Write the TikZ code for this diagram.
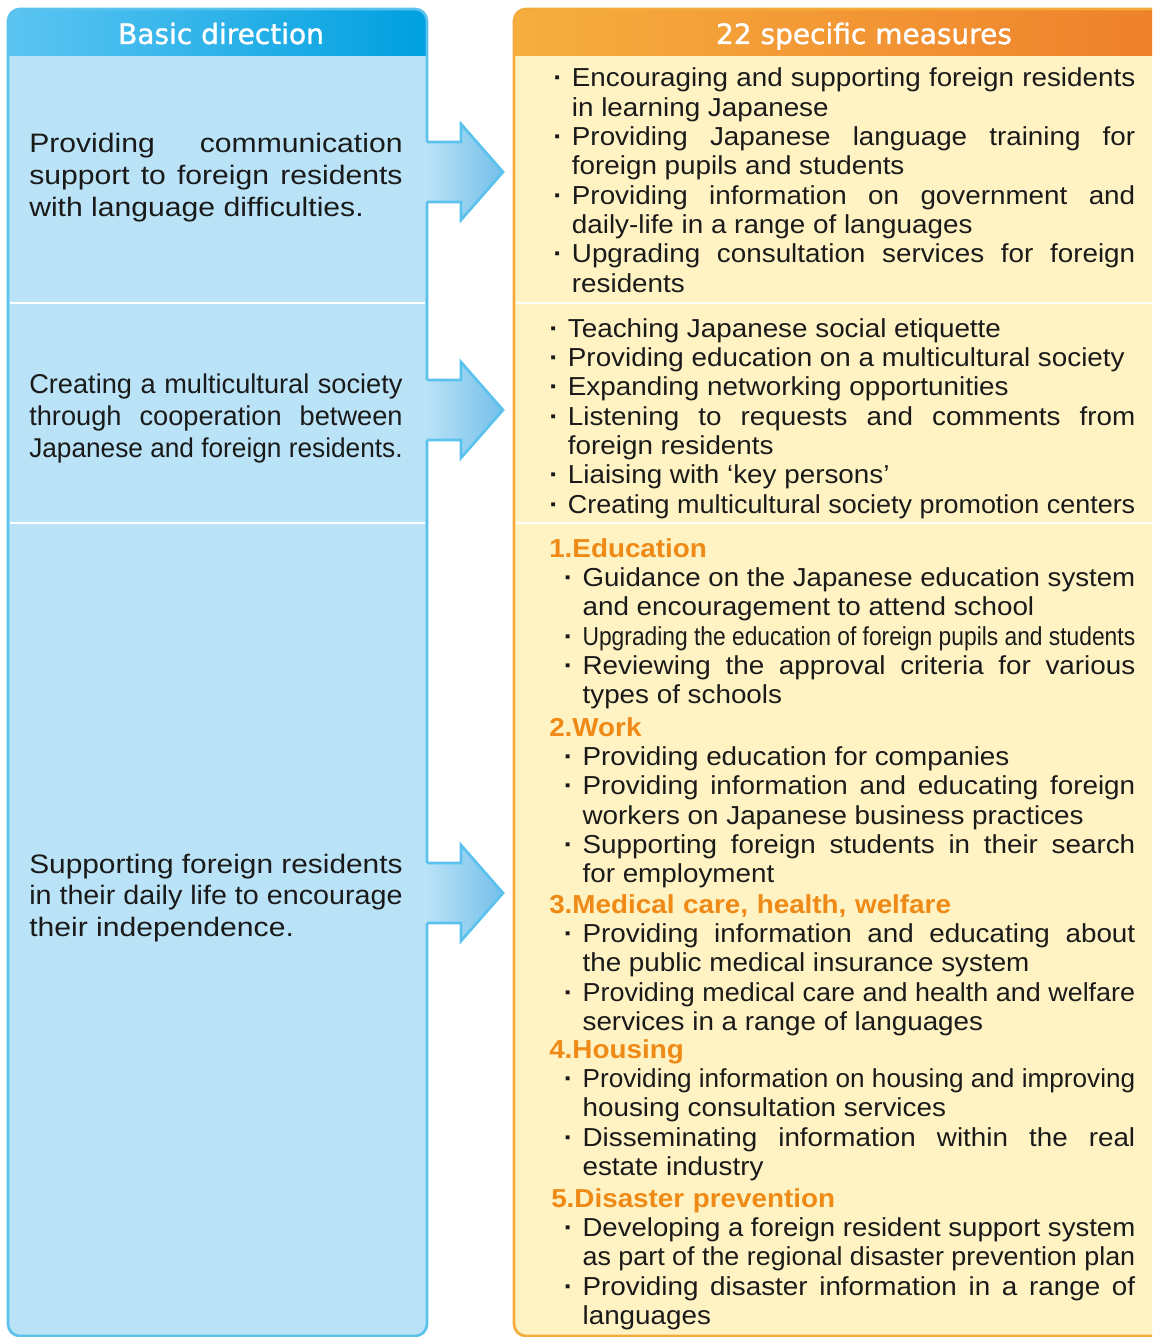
\documentclass[tikz,border=0pt]{standalone}
\usepackage{fontspec}
\usepackage{graphicx}
\setmainfont{Liberation Sans}
\newfontfamily\rfont{Liberation Sans}[FakeStretch=1.07]
\newfontfamily\wfont{Liberation Sans}[FakeStretch=1.13]
\newfontfamily\hfont{DejaVu Sans}[FakeBold=1.2]

\definecolor{boxblue}{HTML}{BAE3F7}
\definecolor{lineblue}{HTML}{5BC2EE}
\definecolor{headblueA}{HTML}{5CC5F2}
\definecolor{headblueB}{HTML}{00A0E0}
\definecolor{arrowblue}{HTML}{74BFEA}
\definecolor{boxyellow}{HTML}{FFF2C3}
\definecolor{lineorange}{HTML}{F5AB3B}
\definecolor{headorangeA}{HTML}{F6AE3E}
\definecolor{headorangeB}{HTML}{EE7D2A}
\definecolor{headingorange}{HTML}{EF8A16}
\definecolor{bodytext}{HTML}{1A1A1A}

% one justified line: #1 = bullet or indent, #2 = words
\newsavebox\linebox
\newlength\restw
\newcommand\jl[2]{{\spaceskip=0pt\xspaceskip=0pt%
  \sbox\linebox{#1}\setlength\restw{\dimexpr\linewidth-\wd\linebox\relax}%
  \usebox\linebox
  \sbox\linebox{#2}%
  \ifdim\wd\linebox>\restw \resizebox{\restw}{\height}{\usebox\linebox}%
  \else\makebox[\restw][s]{#2}\fi}}
% one line at its own width, squeezed only when too long
\newcommand\fl[1]{{\spaceskip=0pt\xspaceskip=0pt%
  \sbox\linebox{#1}%
  \ifdim\wd\linebox>\linewidth \resizebox{\linewidth}{\height}{\usebox\linebox}%
  \else\usebox\linebox\fi}}
\newcommand\bul{\makebox[14pt][l]{\textbf{·}}}
\newcommand\ind{\hspace*{14pt}}
\newcommand\sbul{\hspace*{11pt}\bul}
\newcommand\sind{\hspace*{25pt}}
\newcommand\grp[1]{{\color{headingorange}\bfseries #1}}

\begin{document}
\begin{tikzpicture}[x=0.75pt,y=-0.75pt]
    \tikzset{
        colhead/.style={font=\hfont\fontsize{21}{24}\selectfont, text=white, anchor=base, inner sep=0},
        dirtext/.style={font=\wfont\fontsize{20}{23.8}\selectfont, text=bodytext,
            anchor=base west, inner sep=0, text width=280pt, align=left},
        measures/.style={font=\rfont\fontsize{19.5}{22}\selectfont, text=bodytext,
            anchor=base west, inner sep=0, text width=#1, align=left},
        measures/.default=439.5pt,
        sepline/.style={white, line width=1.5pt},
        frame/.style={line width=2pt, rounded corners=9pt}}
    \def\arrowpath{(425.5,-30) -- (461,-30) -- (461,-48) -- (503,0) -- (461,48) -- (461,30) -- (425.5,30)}
    \useasboundingbox (0,0) rectangle (1152,1337);
    \clip (0,0) rectangle (1152,1337);

    % left column
    \begin{scope}
        \clip[rounded corners=9pt] (8,9) rectangle (427,1336);
        \fill[boxblue] (8,9) rectangle (427,1336);
        \shade[left color=headblueA, right color=headblueB] (8,9) rectangle (427,56);
    \end{scope}
    % right column
    \begin{scope}
        \clip[rounded corners=9pt] (514,9) rectangle (1213,1336);
        \fill[boxyellow] (514,9) rectangle (1213,1336);
        \shade[left color=headorangeA, right color=headorangeB] (514,9) rectangle (1213,56);
    \end{scope}
    \foreach \yy in {303,523} {
        \draw[sepline] (10,\yy) -- (425,\yy);
        \draw[sepline] (516,\yy) -- (1160,\yy);
    }
    \draw[frame, lineblue] (8,9) rectangle (427,1336);
    \draw[frame, lineorange] (514,9) rectangle (1213,1336);

    \foreach \yy in {172,410,893} {
        \begin{scope}[shift={(0,\yy)}]
            \shade[left color=boxblue, right color=arrowblue] \arrowpath -- cycle;
            \draw[lineblue, line width=2pt] (427,-30) -- (461,-30) -- (461,-48) -- (503,0)
                -- (461,48) -- (461,30) -- (427,30);
        \end{scope}
    }

    \node[colhead] (hdl) at (221,44) {Basic direction};
    \node[colhead] (hdr) at (864,44) {22 specific measures};

    \node[dirtext] (dirA) at (29,153) {\jl{}{Providing communication}\\
        \jl{}{support to foreign residents}\\ \fl{with language difficulties.}};
    \node[dirtext, font=\rmfamily\fontsize{20.4}{24}\selectfont] (dirB) at (29,393)
        {\jl{}{Creating a multicultural society}\\ \jl{}{through cooperation between}\\
        \fl{Japanese and foreign residents.}};
    \node[dirtext] (dirC) at (29,873) {\jl{}{Supporting foreign residents}\\
        \jl{}{in their daily life to encourage}\\ \fl{their independence.}};

    \node[measures=436.5pt] (msA) at (553,87) {%
        \jl{\bul}{Encouraging and supporting foreign residents}\\
        \fl{\ind in learning Japanese}\\
        \jl{\bul}{Providing Japanese language training for}\\
        \fl{\ind foreign pupils and students}\\
        \jl{\bul}{Providing information on government and}\\
        \fl{\ind daily-life in a range of languages}\\
        \jl{\bul}{Upgrading consultation services for foreign}\\
        \fl{\ind residents}};
    \node[measures] (msB) at (549,337) {%
        \fl{\bul Teaching Japanese social etiquette}\\
        \fl{\bul Providing education on a multicultural society}\\
        \fl{\bul Expanding networking opportunities}\\
        \jl{\bul}{Listening to requests and comments from}\\
        \fl{\ind foreign residents}\\
        \fl{\bul Liaising with ‘key persons’}\\
        \jl{\bul}{Creating multicultural society promotion centers}};

    \node[measures] (edu) at (549,557) {\grp{1.Education}\\
        \jl{\sbul}{Guidance on the Japanese education system}\\
        \fl{\sind and encouragement to attend school}\\
        \jl{\sbul}{Upgrading the education of foreign pupils and students}\\
        \jl{\sbul}{Reviewing the approval criteria for various}\\
        \fl{\sind types of schools}};
    \node[measures] (work) at (549,736) {\grp{2.Work}\\
        \fl{\sbul Providing education for companies}\\
        \jl{\sbul}{Providing information and educating foreign}\\
        \fl{\sind workers on Japanese business practices}\\
        \jl{\sbul}{Supporting foreign students in their search}\\
        \fl{\sind for employment}};
    \node[measures] (med) at (549,913) {\grp{3.Medical care, health, welfare}\\
        \jl{\sbul}{Providing information and educating about}\\
        \fl{\sind the public medical insurance system}\\
        \jl{\sbul}{Providing medical care and health and welfare}\\
        \fl{\sind services in a range of languages}};
    \node[measures] (housing) at (549,1058) {\grp{4.Housing}\\
        \jl{\sbul}{Providing information on housing and improving}\\
        \fl{\sind housing consultation services}\\
        \jl{\sbul}{Disseminating information within the real}\\
        \fl{\sind estate industry}};
    \node[measures] (disaster) at (549,1207) {\grp{\hspace*{1.5pt}5.Disaster prevention}\\
        \jl{\sbul}{Developing a foreign resident support system}\\
        \jl{\sind}{as part of the regional disaster prevention plan}\\
        \jl{\sbul}{Providing disaster information in a range of}\\
        \fl{\sind languages}};
\end{tikzpicture}
\end{document}
